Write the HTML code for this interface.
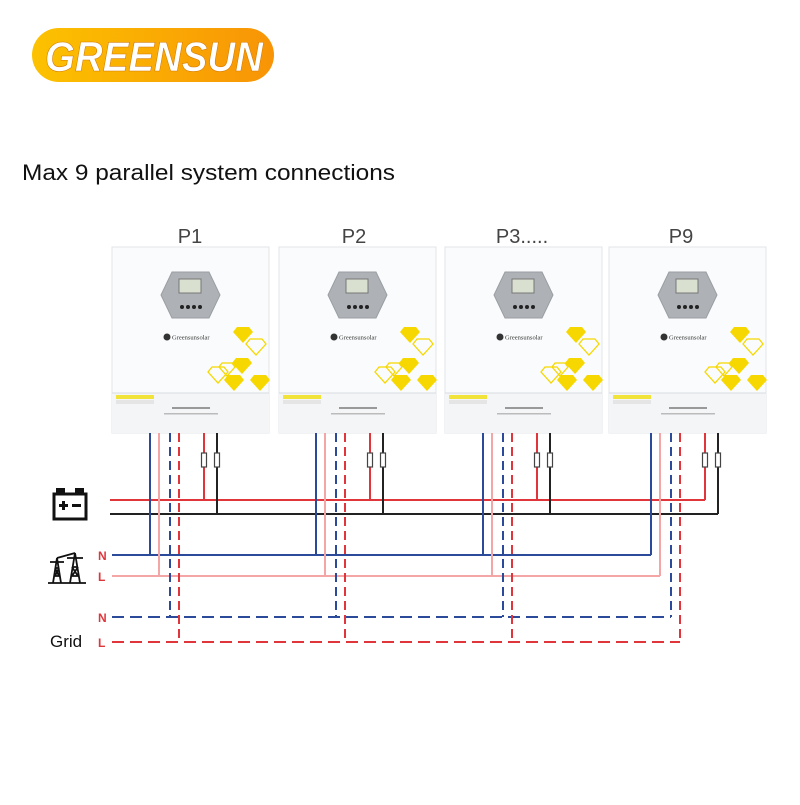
<!DOCTYPE html>
<html><head><meta charset="utf-8"><style>
body{margin:0;background:#fff;width:800px;height:800px;overflow:hidden;font-family:"Liberation Sans",sans-serif}
</style></head><body>
<svg width="800" height="800" viewBox="0 0 800 800" xmlns="http://www.w3.org/2000/svg" font-family="Liberation Sans, sans-serif">
<defs>
<linearGradient id="og" x1="0" y1="0" x2="1" y2="0"><stop offset="0" stop-color="#fcc200"/><stop offset="1" stop-color="#f89406"/></linearGradient>
<g id="mod">
 <rect x="0" y="0" width="157" height="186" fill="#fafbfc" stroke="#e2e5e8"/>
 <rect x="0" y="146" width="157" height="40" fill="#f3f5f7"/>
 <line x1="0" y1="146" x2="157" y2="146" stroke="#d8dcdf"/>
 <polygon points="60,25 97,25 108,48 97,71 60,71 49,48" fill="#aeb2b6" stroke="#9a9ea2"/>
 <rect x="67" y="32" width="22" height="14" fill="#d9e0d0" stroke="#777"/>
 <g fill="#222"><circle cx="70" cy="60" r="2"/><circle cx="76" cy="60" r="2"/><circle cx="82" cy="60" r="2"/><circle cx="88" cy="60" r="2"/></g>
 <circle cx="55" cy="90" r="3.5" fill="#333"/>
 <text x="60" y="92.5" font-size="6.5" fill="#333" font-family="Liberation Serif,serif">Greensunsolar</text>
 <g fill="#f6d800">
  <polygon points="125,80 137,80 141,85 131,96 121,85"/>
  <polygon points="124,111 136,111 140,116 130,127 120,116"/>
  <polygon points="116,128 128,128 132,133 122,144 112,133"/>
  <polygon points="142,128 154,128 158,133 148,144 138,133"/>
 </g>
 <g fill="none" stroke="#f6d800" stroke-width="1.3">
  <polygon points="138,92 150,92 154,97 144,108 134,97"/>
  <polygon points="100,120 112,120 116,125 106,136 96,125"/>
  <polygon points="110,116 120,116 123,120 115,129 107,120"/>
 </g>
 <rect x="4" y="148" width="38" height="4" fill="#f2e33a"/>
 <rect x="4" y="153" width="38" height="4" fill="#e5e5e5"/>
 <rect x="60" y="160" width="38" height="2" fill="#999"/>
 <rect x="52" y="166" width="54" height="1.5" fill="#bbb"/>
</g>
</defs>
<rect x="32" y="28" width="242" height="54" rx="27" fill="url(#og)"/>
<text x="45" y="71" textLength="218" lengthAdjust="spacingAndGlyphs" font-size="42" font-weight="bold" font-style="italic" fill="#fff" stroke="#d47a00" stroke-width="0.6">GREENSUN</text>
<text x="22" y="180" font-size="22" textLength="373" lengthAdjust="spacingAndGlyphs" fill="#111">Max 9 parallel system connections</text>
<g font-size="20" fill="#444" text-anchor="middle">
<text x="190" y="243">P1</text><text x="354" y="243">P2</text><text x="522" y="243">P3.....</text><text x="681" y="243">P9</text>
</g>
<use href="#mod" x="112" y="247"/>
<use href="#mod" x="279" y="247"/>
<use href="#mod" x="445" y="247"/>
<use href="#mod" x="609" y="247"/>
<g stroke-width="2" fill="none">
<line x1="110" y1="500" x2="705" y2="500" stroke="#e0353a"/>
<line x1="110" y1="514" x2="718" y2="514" stroke="#222"/>
<line x1="112" y1="555" x2="651" y2="555" stroke="#2c4a9a"/>
<line x1="112" y1="576" x2="660" y2="576" stroke="#f4a6a6"/>
<line x1="112" y1="617" x2="671" y2="617" stroke="#2c4a9a" stroke-dasharray="12,6"/>
<line x1="112" y1="642" x2="680" y2="642" stroke="#e0353a" stroke-dasharray="12,6"/>
</g>
<g stroke-width="2" fill="none">
<line x1="150" y1="433" x2="150" y2="555" stroke="#2c4a9a"/>
<line x1="159" y1="433" x2="159" y2="576" stroke="#f4a6a6"/>
<line x1="170" y1="433" x2="170" y2="617" stroke="#2c4a9a" stroke-dasharray="9,5"/>
<line x1="179" y1="433" x2="179" y2="642" stroke="#e0353a" stroke-dasharray="9,5"/>
<line x1="204" y1="433" x2="204" y2="500" stroke="#e0353a"/>
<line x1="217" y1="433" x2="217" y2="514" stroke="#222"/>
<line x1="316" y1="433" x2="316" y2="555" stroke="#2c4a9a"/>
<line x1="325" y1="433" x2="325" y2="576" stroke="#f4a6a6"/>
<line x1="336" y1="433" x2="336" y2="617" stroke="#2c4a9a" stroke-dasharray="9,5"/>
<line x1="345" y1="433" x2="345" y2="642" stroke="#e0353a" stroke-dasharray="9,5"/>
<line x1="370" y1="433" x2="370" y2="500" stroke="#e0353a"/>
<line x1="383" y1="433" x2="383" y2="514" stroke="#222"/>
<line x1="483" y1="433" x2="483" y2="555" stroke="#2c4a9a"/>
<line x1="492" y1="433" x2="492" y2="576" stroke="#f4a6a6"/>
<line x1="503" y1="433" x2="503" y2="617" stroke="#2c4a9a" stroke-dasharray="9,5"/>
<line x1="512" y1="433" x2="512" y2="642" stroke="#e0353a" stroke-dasharray="9,5"/>
<line x1="537" y1="433" x2="537" y2="500" stroke="#e0353a"/>
<line x1="550" y1="433" x2="550" y2="514" stroke="#222"/>
<line x1="651" y1="433" x2="651" y2="555" stroke="#2c4a9a"/>
<line x1="660" y1="433" x2="660" y2="576" stroke="#f4a6a6"/>
<line x1="671" y1="433" x2="671" y2="617" stroke="#2c4a9a" stroke-dasharray="9,5"/>
<line x1="680" y1="433" x2="680" y2="642" stroke="#e0353a" stroke-dasharray="9,5"/>
<line x1="705" y1="433" x2="705" y2="500" stroke="#e0353a"/>
<line x1="718" y1="433" x2="718" y2="514" stroke="#222"/>
</g>
<g fill="#fff" stroke="#444" stroke-width="1.2">
<rect x="201.5" y="453" width="5" height="14"/><rect x="214.5" y="453" width="5" height="14"/>
<rect x="367.5" y="453" width="5" height="14"/><rect x="380.5" y="453" width="5" height="14"/>
<rect x="534.5" y="453" width="5" height="14"/><rect x="547.5" y="453" width="5" height="14"/>
<rect x="702.5" y="453" width="5" height="14"/><rect x="715.5" y="453" width="5" height="14"/>
</g>
<rect x="54" y="494" width="32" height="25" stroke="#111" fill="none" stroke-width="3"/>
<g fill="#111">
<rect x="56" y="488" width="9" height="5"/><rect x="75" y="488" width="9" height="5"/>
<rect x="59" y="504" width="9" height="3"/><rect x="62" y="501" width="3" height="9"/>
<rect x="72" y="504" width="9" height="3"/>
</g>
<g stroke="#111" stroke-width="1.8" fill="none">
<path d="M53,583 L57,558 L61,583 M54,576 L60,576 M55,568 L59,568 M50,562 L64,562 M55,576 L59,568 M59,576 L55,568"/>
<path d="M70,583 L75,553 L80,583 M71,576 L79,576 M72,567 L78,567 M67,558 L83,558 M72,576 L78,567 M78,576 L72,567"/>
<path d="M57,558 L75,553"/>
<line x1="48" y1="583" x2="86" y2="583"/>
</g>
<g font-size="12" font-weight="bold" fill="#e0353a">
<text x="98" y="560">N</text><text x="98" y="581">L</text>
<text x="98" y="622">N</text><text x="98" y="647">L</text>
</g>
<text x="50" y="647" font-size="17" fill="#111">Grid</text>
</svg>
</body></html>
